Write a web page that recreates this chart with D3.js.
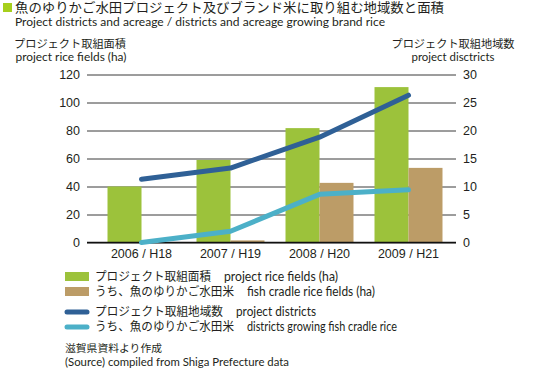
<!DOCTYPE html>
<html><head><meta charset="utf-8">
<script src="https://cdn.jsdelivr.net/npm/d3@7"></script>
<style>
body{margin:0;background:#fff;}
text{font-family:Lato,"Noto Sans CJK JP",sans-serif;fill:#231f20;}
.num{font-family:"Liberation Sans",Arial,sans-serif;}
</style></head>
<body><svg id="c" width="542" height="390"></svg>
<script>
const categories = ["2006 / H18","2007 / H19","2008 / H20","2009 / H21"];
const projectFields = [40, 59, 81.7, 111];
const cradleFields = [0, 1.5, 42.6, 53.3];
const projectDistricts = [11.3, 13.3, 18.8, 26.3];
const cradleDistricts = [0, 2, 8.6, 9.4];
const leftTicks = [0,20,40,60,80,100,120];
const rightTicks = [0,5,10,15,20,25,30];

const svg = d3.select("#c");
const colGreen="#9cc23b", colBrown="#bc9c67", colDark="#2f6096", colLight="#4cb0c8";

const x0 = d3.scaleBand().domain(categories).range([97,453]).paddingInner(0.236).paddingOuter(0.118);
const x1 = d3.scaleBand().domain(["a","b"]).range([0,x0.bandwidth()]);
const yL = d3.scaleLinear().domain([0,120]).range([242.5,74.5]);
const yR = d3.scaleLinear().domain([0,30]).range([242.5,74.5]);

// title
svg.append("rect").attr("x",3).attr("y",3).attr("width",9).attr("height",9).attr("fill","#a6cf1c");
svg.append("text").attr("x",15).attr("y",11.5).attr("font-size",13).attr("textLength",429).attr("lengthAdjust","spacingAndGlyphs")
  .text("魚のゆりかご水田プロジェクト及びブランド米に取り組む地域数と面積");
svg.append("text").attr("x",15).attr("y",25.5).attr("font-size",11.5).attr("textLength",370).attr("lengthAdjust","spacingAndGlyphs")
  .text("Project districts and acreage / districts and acreage growing brand rice");

// axis titles
svg.append("text").attr("x",70).attr("y",47.5).attr("text-anchor","middle").attr("font-size",11).attr("textLength",112).attr("lengthAdjust","spacingAndGlyphs").text("プロジェクト取組面積");
svg.append("text").attr("x",71).attr("y",60.5).attr("text-anchor","middle").attr("font-size",11.5).attr("textLength",111).attr("lengthAdjust","spacingAndGlyphs").text("project rice fields (ha)");
svg.append("text").attr("x",453).attr("y",47.5).attr("text-anchor","middle").attr("font-size",11).attr("textLength",123).attr("lengthAdjust","spacingAndGlyphs").text("プロジェクト取組地域数");
svg.append("text").attr("x",453).attr("y",60.5).attr("text-anchor","middle").attr("font-size",11.5).attr("textLength",83).attr("lengthAdjust","spacingAndGlyphs").text("project disctricts");

// gridlines
const gl = d3.axisLeft(yL).tickValues(leftTicks).tickSize(-(456-87)).tickFormat("");
const g = svg.append("g").attr("transform","translate(87,0)").call(gl);
g.select(".domain").remove();
g.selectAll(".tick line").attr("stroke","#3a3a3a").attr("stroke-width",1);

// left tick labels
svg.append("g").selectAll("text").data(leftTicks).join("text").attr("class","num")
  .attr("x",80).attr("y",d=>yL(d)).attr("dy","0.36em").attr("text-anchor","end").attr("font-size",12.5).text(d=>d);
// right tick labels
svg.append("g").selectAll("text").data(rightTicks).join("text").attr("class","num")
  .attr("x",463).attr("y",d=>yR(d)).attr("dy","0.36em").attr("font-size",12.5).text(d=>d);

// bars
const groups = svg.append("g").selectAll("g").data(categories).join("g").attr("transform",d=>`translate(${x0(d)},0)`);
groups.append("rect").attr("x",x1("a")).attr("width",x1.bandwidth()).attr("y",(d,i)=>yL(projectFields[i])).attr("height",(d,i)=>yL(0)-yL(projectFields[i])).attr("fill",colGreen);
groups.append("rect").attr("x",x1("b")).attr("width",x1.bandwidth()).attr("y",(d,i)=>yL(cradleFields[i])).attr("height",(d,i)=>yL(0)-yL(cradleFields[i])).attr("fill",colBrown);

// baseline
svg.append("line").attr("x1",87).attr("x2",456).attr("y1",yL(0)).attr("y2",yL(0)).attr("stroke","#111").attr("stroke-width",1.3);

// category labels
svg.append("g").selectAll("text").data(categories).join("text").attr("class","num")
  .attr("x",d=>x0(d)+x0.bandwidth()/2).attr("y",258).attr("text-anchor","middle").attr("font-size",12.5).text(d=>d);

// lines
const cx = d=>x0(d)+x0.bandwidth()/2;
const line = vals => d3.line().x((d,i)=>cx(categories[i])).y(d=>yR(d))(vals);
svg.append("path").attr("d",line(projectDistricts)).attr("fill","none").attr("stroke",colDark).attr("stroke-width",5).attr("stroke-linecap","round").attr("stroke-linejoin","round");
svg.append("path").attr("d",line(cradleDistricts)).attr("fill","none").attr("stroke",colLight).attr("stroke-width",5).attr("stroke-linecap","round").attr("stroke-linejoin","round");

// legend
const lg = svg.append("g");
lg.append("rect").attr("x",65).attr("y",272).attr("width",24).attr("height",9).attr("fill",colGreen);
lg.append("rect").attr("x",65).attr("y",287).attr("width",24).attr("height",9).attr("fill",colBrown);
lg.append("line").attr("x1",67).attr("x2",87).attr("y1",312).attr("y2",312).attr("stroke",colDark).attr("stroke-width",5).attr("stroke-linecap","round");
lg.append("line").attr("x1",67).attr("x2",87).attr("y1",327).attr("y2",327).attr("stroke",colLight).attr("stroke-width",5).attr("stroke-linecap","round");
const legRows = [
  {y:281, jp:"プロジェクト取組面積", jw:116, en:"project rice fields (ha)", ex:224, ew:114},
  {y:296, jp:"うち、魚のゆりかご水田米", jw:139, en:"fish cradle rice fields (ha)", ex:247, ew:128},
  {y:316, jp:"プロジェクト取組地域数", jw:128, en:"project districts", ex:236, ew:80},
  {y:331, jp:"うち、魚のゆりかご水田米", jw:139, en:"districts growing fish cradle rice", ex:247, ew:150}
];
legRows.forEach(r=>{
  lg.append("text").attr("x",95).attr("y",r.y).attr("font-size",12).attr("textLength",r.jw).attr("lengthAdjust","spacingAndGlyphs").text(r.jp);
  lg.append("text").attr("x",r.ex).attr("y",r.y).attr("font-size",12.5).attr("textLength",r.ew).attr("lengthAdjust","spacingAndGlyphs").text(r.en);
});

// source
svg.append("text").attr("x",65).attr("y",352).attr("font-size",10.5).attr("textLength",97).attr("lengthAdjust","spacingAndGlyphs").text("滋賀県資料より作成");
svg.append("text").attr("x",65).attr("y",366).attr("font-size",11).attr("textLength",224).attr("lengthAdjust","spacingAndGlyphs").text("(Source) compiled from Shiga Prefecture data");
</script></body></html>
